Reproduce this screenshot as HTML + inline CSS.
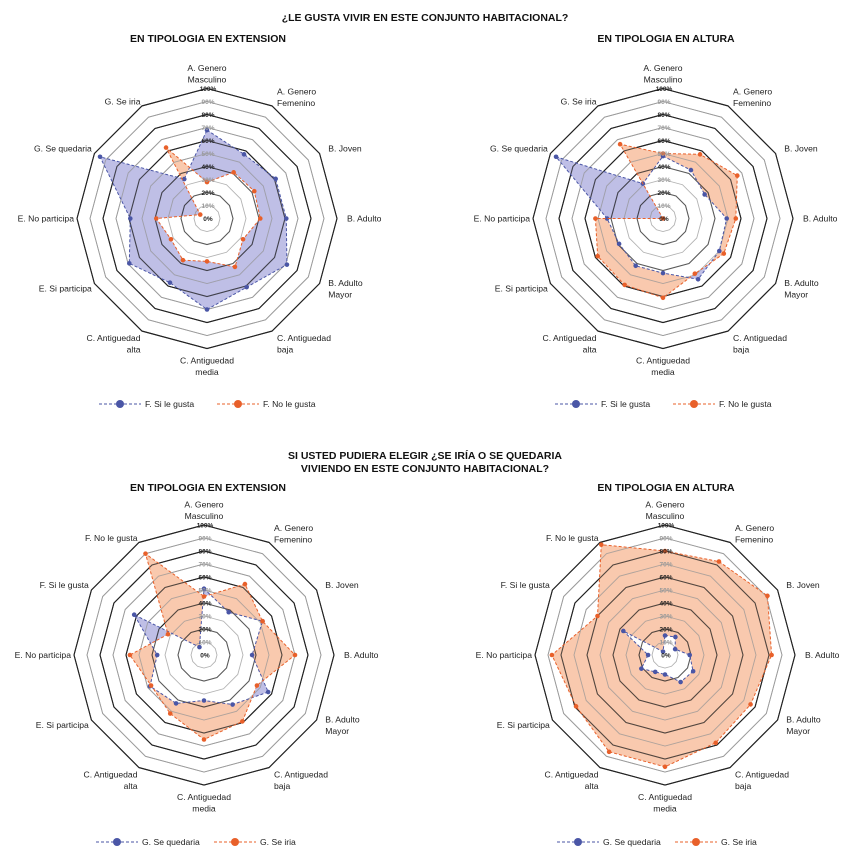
<!DOCTYPE html>
<html><head><meta charset="utf-8">
<style>
html,body{margin:0;padding:0;background:#fff;}
svg{display:block;font-family:"Liberation Sans",Arial,sans-serif;}
.t{font-weight:bold;font-size:10.5px;fill:#111;}
.lab{font-size:8.6px;fill:#222;}
.tick{font-size:6.5px;font-weight:bold;}
.leg{font-size:8.6px;fill:#222;}
</style></head>
<body>
<svg id="svg" width="850" height="860" viewBox="0 0 850 860" xmlns="http://www.w3.org/2000/svg">
<text class="t" x="425" y="21" text-anchor="middle">¿LE GUSTA VIVIR EN ESTE CONJUNTO HABITACIONAL?</text>
<text class="t" x="208" y="42" text-anchor="middle">EN TIPOLOGIA EN EXTENSION</text>
<text class="t" x="666" y="42" text-anchor="middle">EN TIPOLOGIA EN ALTURA</text>
<text class="t" x="425" y="459" text-anchor="middle">SI USTED PUDIERA ELEGIR ¿SE IRÍA O SE QUEDARIA</text>
<text class="t" x="425" y="472" text-anchor="middle">VIVIENDO EN ESTE CONJUNTO HABITACIONAL?</text>
<text class="t" x="208" y="491" text-anchor="middle">EN TIPOLOGIA EN EXTENSION</text>
<text class="t" x="666" y="491" text-anchor="middle">EN TIPOLOGIA EN ALTURA</text>
</svg>
<script>
const catsTop = ["A. Genero|Masculino","A. Genero|Femenino","B. Joven","B. Adulto","B. Adulto|Mayor","C. Antiguedad|baja","C. Antiguedad|media","C. Antiguedad|alta","E. Si participa","E. No participa","G. Se quedaria","G. Se iria"];
const catsBottom = ["A. Genero|Masculino","A. Genero|Femenino","B. Joven","B. Adulto","B. Adulto|Mayor","C. Antiguedad|baja","C. Antiguedad|media","C. Antiguedad|alta","E. Si participa","E. No participa","F. Si le gusta","F. No le gusta"];
const tickLabels = ["0%","10%","20%","30%","40%","50%","60%","70%","80%","90%","100%"];
const c1Blue = [68,57,61,61,71,61,70,57,69,59,95,35];
const c1Orange = [28,41,42,41,32,43,33,37,32,39,6,63];
const c2Blue = [48,43,37,49,50,54,42,42,39,43,95,31];
const c2Orange = [50,57,66,56,54,49,61,59,58,52,0,66];
const c3Blue = [51,38,52,37,57,44,35,43,48,36,62,7];
const c3Orange = [45,63,52,70,47,59,65,52,47,57,32,90];
const c4Blue = [15,16,9,19,25,24,15,15,21,13,37,3];
const c4Orange = [80,83,91,82,76,78,86,86,79,87,60,98];
const legendTop = ["F. Si le gusta","F. No le gusta"];
const legendBottom = ["G. Se quedaria","G. Se iria"];

const NS="http://www.w3.org/2000/svg";
const svg=document.getElementById('svg');
const BLUE="#4a56a6", ORANGE="#e8602a", BFILL="#b4b4e2", OFILL="#f8c3a5";
function mk(tag,attrs,parent){const e=document.createElementNS(NS,tag);for(const k in attrs)e.setAttribute(k,attrs[k]);(parent||svg).appendChild(e);return e;}
let cid=0;
function chart(cx,cy,cats,blue,orange,legend,legY,idx){
  const g=mk('g',{});
  
  
  const n=cats.length, unit=1.3;
  const ang=i=>(-90+360*i/n)*Math.PI/180;
  const pt=(i,v)=>[cx+Math.cos(ang(i))*v*unit, cy+Math.sin(ang(i))*v*unit];
  const poly=vals=>vals.map((v,i)=>pt(i,v).map(a=>a.toFixed(1)).join(',')).join(' ');
  function rings(op){
    for(let k=1;k<=10;k++){
      const pts=[];for(let i=0;i<n;i++)pts.push(pt(i,k*10).join(','));
      const odd=k%2==1;
      const r=mk('polygon',{points:pts.join(' '),fill:'none',stroke:odd?'#9a9a9a':'#222','stroke-width':odd?0.9:1.1,'stroke-opacity':op},g);
      
      
    }
  }
  rings(1);
  cid++;
  const cp=mk('clipPath',{id:'cp'+cid},g);
  mk('polygon',{points:poly(blue)},cp);
  const bp=mk('polygon',{points:poly(blue),fill:BFILL,'fill-opacity':0.85},g);
  
  
  const op=mk('polygon',{points:poly(orange),fill:OFILL,'fill-opacity':0.9},g);
  
  
  const ov=mk('polygon',{points:poly(orange),fill:'#fff','clip-path':'url(#cp'+cid+')'},g);
  
  
  rings(0.75);
  [[blue,BLUE,'blue'],[orange,ORANGE,'orange']].forEach(([vals,col,nm])=>{
    const l=mk('polygon',{points:poly(vals),fill:'none',stroke:col,'stroke-width':1,'stroke-dasharray':'3,2'},g);
    
    
    vals.forEach((v,i)=>{const p=pt(i,v);
      const c=mk('circle',{cx:p[0],cy:p[1],r:2.3,fill:col},g);
      
      
    });
  });
  tickLabels.forEach((t,k)=>{
    const tx=mk('text',{x:cx+1,y:cy-k*10*unit+2.5,'text-anchor':'middle',class:'tick',fill:(k%2==1)?'#999':'#222'},g);
    tx.textContent=t;
    
    
  });
  cats.forEach((c,i)=>{
    const a=ang(i), co=Math.cos(a), si=Math.sin(a);
    const lines=c.split('|');
    const anchor=Math.abs(co)<0.1?'middle':(co>0?'start':'end');
    let x,y0;
    if(Math.abs(co)<0.1){
      x=cx;
      y0 = si<0 ? cy-136-(lines.length-1)*11.5 : cy+145;
    } else {
      x=cx+co*(co<0?133:140);
      let y=cy+si*140;
      if(si>0.8) y+=4;
      if(co<0 && si<-0.8) y+=4;
      y0 = y-(lines.length-1)*11.5/2+3;
    }
    const tx=mk('text',{x:x,y:y0,'text-anchor':anchor,class:'lab'},g);
    
    
    lines.forEach((ln,j)=>{const s=mk('tspan',{x:x,dy:j?11.5:0},tx);s.textContent=ln;});
  });
  [[BLUE,legend[0],cx-108],[ORANGE,legend[1],cx+10]].forEach(([col,txt,x0],j)=>{
    const lg=mk('g',{},g);
    
    
    mk('line',{x1:x0,y1:legY,x2:x0+42,y2:legY,stroke:col,'stroke-width':1,'stroke-dasharray':'3,2'},lg);
    mk('circle',{cx:x0+21,cy:legY,r:4,fill:col},lg);
    const t=mk('text',{x:x0+46,y:legY+3,class:'leg'},lg);t.textContent=txt;
  });
}
chart(207,218.5,catsTop,c1Blue,c1Orange,legendTop,404,1);
chart(663,218.5,catsTop,c2Blue,c2Orange,legendTop,404,2);
chart(204,655,catsBottom,c3Blue,c3Orange,legendBottom,842,3);
chart(665,655,catsBottom,c4Blue,c4Orange,legendBottom,842,4);
</script>
</body></html>
